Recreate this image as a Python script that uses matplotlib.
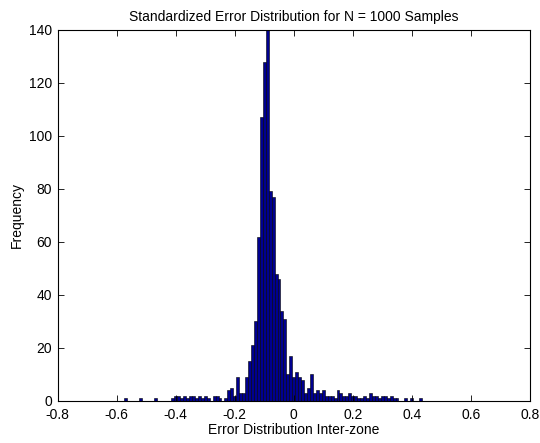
import matplotlib.pyplot as plt
import numpy as np

plt.rcParams['font.family'] = ['Liberation Sans', 'DejaVu Sans']

# bin centres (width 0.01) and counts
left_tail_centers = [-0.57, -0.52, -0.47, -0.41, -0.40, -0.39, -0.38, -0.37, -0.36,
                     -0.35, -0.34, -0.33, -0.32, -0.31, -0.30, -0.29, -0.27, -0.26,
                     -0.25, -0.23]
left_tail_counts = [1, 1, 1, 1, 2, 2, 1, 2, 1,
                    2, 2, 1, 2, 1, 2, 1, 2, 2,
                    1, 1]

core_centers = [-0.22, -0.21, -0.20, -0.19, -0.18, -0.17, -0.16, -0.15, -0.14, -0.13,
                -0.12, -0.11, -0.10, -0.09, -0.08, -0.07, -0.06, -0.05, -0.04, -0.03,
                -0.02, -0.01, 0.00, 0.01, 0.02, 0.03]
core_counts = [4, 5, 2, 9, 3, 3, 9, 15, 21, 30,
               62, 107, 128, 150, 79, 77, 48, 46, 34, 31,
               10, 17, 9, 11, 9, 8]

right_tail_centers = [0.04, 0.05, 0.06, 0.07, 0.08, 0.09, 0.10, 0.11, 0.12, 0.13,
                      0.14, 0.15, 0.16, 0.17, 0.18, 0.19, 0.20, 0.21, 0.22, 0.23,
                      0.24, 0.25, 0.26, 0.27, 0.28, 0.29, 0.30, 0.31, 0.32, 0.33,
                      0.34, 0.35, 0.38, 0.40, 0.43]
right_tail_counts = [3, 5, 10, 3, 4, 3, 4, 2, 2, 2,
                     1, 4, 3, 2, 2, 3, 2, 2, 1, 1,
                     2, 1, 3, 2, 2, 1, 2, 2, 1, 2,
                     1, 1, 1, 1, 1]

centers = np.array(left_tail_centers + core_centers + right_tail_centers)
counts = np.array(left_tail_counts + core_counts + right_tail_counts)

fig = plt.figure(figsize=(5.4, 4.43), dpi=100)
ax = fig.add_axes([0.107, 0.095, 0.874, 0.838])

# MATLAB 스타일 히스토그램 (진한 파랑 막대, 검은 테두리)
ax.bar(centers, counts, width=0.01, color='#00008F', edgecolor='black', linewidth=0.4)

ax.set_xlim(-0.8, 0.8)
ax.set_ylim(0, 140)
ax.set_xticks(np.arange(-0.8, 0.81, 0.2))
ax.set_xticklabels(['-0.8', '-0.6', '-0.4', '-0.2', '0', '0.2', '0.4', '0.6', '0.8'])
ax.set_yticks(range(0, 141, 20))

ax.tick_params(direction='in', top=True, right=True, length=4, width=0.6, labelsize=10)
ax.tick_params(axis='x', pad=5)
ax.tick_params(axis='y', pad=4)
for s in ax.spines.values():
    s.set_linewidth(0.8)

ax.set_title('Standardized Error Distribution for N = 1000 Samples', fontsize=10, pad=6)
ax.set_xlabel('Error Distribution Inter-zone', fontsize=10, labelpad=1)
ax.set_ylabel('Frequency', fontsize=10, labelpad=4)

fig.savefig('out.png', dpi=100)
